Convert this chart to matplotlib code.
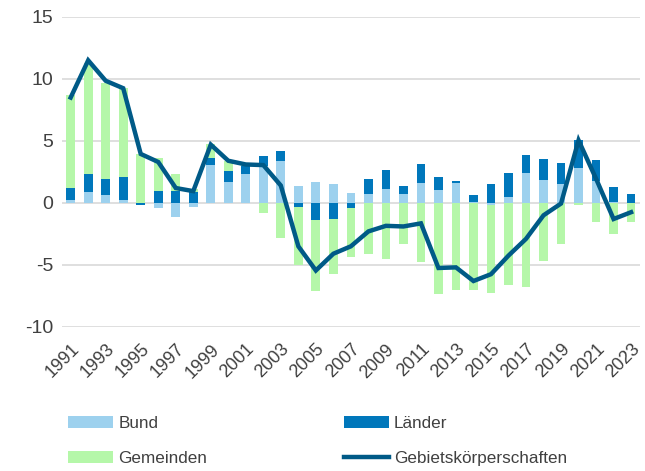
import matplotlib
matplotlib.use("Agg")
import matplotlib.pyplot as plt
import numpy as np

plt.rcParams['font.family'] = ['Liberation Sans', 'DejaVu Sans']
plt.rcParams['axes.unicode_minus'] = False

years = list(range(1991, 2024))
bund = [0.2, 0.9, 0.6, 0.2, 0.0, -0.4, -1.1, -0.3, 3.05, 1.7,
        2.3, 3.0, 3.35, 1.4, 1.65, 1.55, 0.8, 0.75, 1.1, 0.7,
        1.6, 1.05, 1.6, 0.1, -0.2, 0.5, 2.4, 1.85, 1.55, 2.85,
        1.75, 0.05, 0.0]
laender = [1.0, 1.45, 1.3, 1.9, -0.2, 1.0, 1.0, 0.85, 0.6, 0.9,
           0.7, 0.75, 0.8, -0.3, -1.4, -1.3, -0.45, 1.15, 1.55, 0.65,
           1.5, 1.0, 0.2, 0.55, 1.5, 1.9, 1.5, 1.7, 1.65, 2.2,
           1.7, 1.2, 0.7]
gemeinden = [7.5, 8.9, 7.8, 7.2, 3.95, 2.6, 1.3, 0.3, 1.1, 0.8,
             0.1, -0.85, -2.85, -4.7, -5.7, -4.45, -3.9, -4.15, -4.55, -3.3,
             -4.8, -7.35, -7.05, -7.05, -7.1, -6.65, -6.8, -4.65, -3.3, -0.15,
             -1.5, -2.5, -1.5]
gebiet = [8.5, 11.5, 9.85, 9.25, 3.95, 3.3, 1.2, 0.95, 4.7, 3.4,
          3.1, 3.05, 1.4, -3.5, -5.45, -4.1, -3.5, -2.3, -1.85, -1.9,
          -1.65, -5.25, -5.2, -6.3, -5.75, -4.25, -2.9, -1.0, -0.05, 5.05,
          1.95, -1.3, -0.75]

c_bund = '#9DD1EE'
c_laender = '#0077BB'
c_gem = '#B5F7A9'
c_line = '#005A87'

fig = plt.figure(figsize=(6.45, 4.71), dpi=100)
ax = fig.add_axes([0.096, 0.306, 0.896, 0.658])

x = np.array(years)
pos_base = np.zeros(len(years))
neg_base = np.zeros(len(years))
handles = []
for vals, color, name in [(bund, c_bund, 'Bund'), (laender, c_laender, 'Länder'),
                          (gemeinden, c_gem, 'Gemeinden')]:
    v = np.array(vals)
    base = np.where(v >= 0, pos_base, neg_base)
    h = ax.bar(x, v, bottom=base, width=0.5, color=color, label=name, zorder=2)
    handles.append(h)
    pos_base = pos_base + np.where(v >= 0, v, 0)
    neg_base = neg_base + np.where(v < 0, v, 0)

ln, = ax.plot(x, gebiet, color=c_line, lw=3.2, solid_joinstyle='miter',
              label='Gebietskörperschaften', zorder=3)

ax.set_xlim(1990.5, 2023.5)
ax.set_ylim(-10, 15)
ax.set_yticks([-10, -5, 0, 5, 10, 15])
ax.set_xticks(years[::2])
ax.set_xticklabels([str(y) for y in years[::2]], rotation=45, ha='right',
                   rotation_mode='anchor')
ax.tick_params(axis='y', length=0, labelsize=14, colors='#404040', pad=6)
ax.tick_params(axis='x', length=0, labelsize=13, colors='#404040', pad=10)
ax.grid(axis='y', color='#D9D9D9', lw=1.2, zorder=0)
ax.set_axisbelow(True)
for s in ax.spines.values():
    s.set_visible(False)

leg_h = [handles[0], handles[1], handles[2], ln]
leg_l = ['Bund', 'Länder', 'Gemeinden', 'Gebietskörperschaften']
order = [0, 2, 1, 3]
fig.legend([leg_h[i] for i in order], [leg_l[i] for i in order], ncol=2,
           loc='upper left', bbox_to_anchor=(0.082, 0.150), frameon=False,
           fontsize=12.3, handlelength=2.63, handleheight=0.67, handletextpad=0.3,
           columnspacing=8.0, labelspacing=1.2, labelcolor='#404040',
           bbox_transform=fig.transFigure)

fig.savefig('out.png', dpi=100)
